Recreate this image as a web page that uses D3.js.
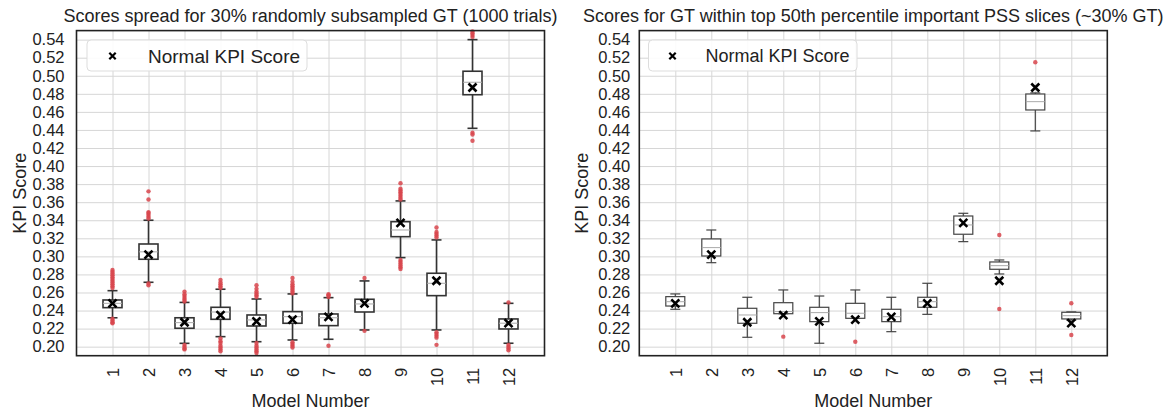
<!DOCTYPE html>
<html>
<head>
<meta charset="utf-8">
<script src="https://cdn.jsdelivr.net/npm/d3@7"></script>
<style>
  body { margin: 0; background: #fff; }
  text { font-family: "Liberation Sans", Arial, sans-serif; fill: #222; }
</style>
</head>
<body>
<div id="chart"></div>
<script>
const W = 1169, H = 412;

// model numbers on the x axis
const models = [1, 2, 3, 4, 5, 6, 7, 8, 9, 10, 11, 12];
const yTicks = [0.20, 0.22, 0.24, 0.26, 0.28, 0.30, 0.32, 0.34, 0.36, 0.38, 0.40, 0.42, 0.44, 0.46, 0.48, 0.50, 0.52, 0.54];

// normal KPI score per model (the black x)
const kpiScore = [0.248, 0.302, 0.227, 0.235, 0.228, 0.230, 0.233, 0.248, 0.337, 0.273, 0.487, 0.226];

// left panel: 1000 random 30% subsamples
const subLow = [0.232, 0.2713, 0.2037, 0.2111, 0.2055, 0.2074, 0.2082, 0.2185, 0.2986, 0.2185, 0.4418, 0.2038];
const subQ1  = [0.2432, 0.2968, 0.2204, 0.2303, 0.2229, 0.2259, 0.2233, 0.2384, 0.3218, 0.2565, 0.479, 0.2196];
const subMed = [0.248, 0.305, 0.2266, 0.2384, 0.2296, 0.2332, 0.232, 0.2473, 0.3292, 0.2702, 0.4928, 0.226];
const subQ3  = [0.2517, 0.3137, 0.232, 0.2436, 0.2351, 0.2388, 0.2362, 0.2525, 0.3384, 0.2813, 0.505, 0.2307];
const subHigh = [0.262, 0.340, 0.249, 0.2636, 0.2528, 0.2584, 0.2543, 0.2728, 0.3614, 0.3182, 0.540, 0.248];
const subOutliers = [
  [0.265, 0.267, 0.269, 0.271, 0.273, 0.275, 0.277, 0.279, 0.281, 0.283, 0.285, 0.231, 0.229, 0.227, 0.226],
  [0.342, 0.344, 0.346, 0.348, 0.349, 0.363, 0.372, 0.270, 0.268],
  [0.250, 0.252, 0.254, 0.256, 0.258, 0.261, 0.202, 0.200, 0.198, 0.197],
  [0.265, 0.267, 0.269, 0.271, 0.274, 0.209, 0.206, 0.204, 0.201, 0.199, 0.197, 0.195],
  [0.255, 0.257, 0.259, 0.261, 0.264, 0.268, 0.204, 0.201, 0.199, 0.197, 0.195, 0.193],
  [0.259, 0.261, 0.263, 0.265, 0.267, 0.269, 0.272, 0.276, 0.205, 0.203, 0.201, 0.199],
  [0.255, 0.257, 0.258, 0.201],
  [0.276, 0.2175],
  [0.363, 0.365, 0.367, 0.369, 0.371, 0.373, 0.375, 0.381, 0.296, 0.294, 0.292, 0.290, 0.288, 0.286],
  [0.321, 0.323, 0.325, 0.327, 0.332, 0.216, 0.214, 0.212, 0.210, 0.202],
  [0.543, 0.545, 0.547, 0.549, 0.437, 0.435, 0.428],
  [0.249, 0.202, 0.200, 0.198, 0.196]
];

// right panel: GT within top 50th percentile PSS slices
const pssLow = [0.2414, 0.293, 0.2104, 0.2365, 0.2038, 0.2314, 0.2166, 0.2358, 0.3163, 0.2805, 0.4389, 0.2296];
const pssQ1  = [0.245, 0.3004, 0.2259, 0.2365, 0.2277, 0.2314, 0.2277, 0.2436, 0.3245, 0.2857, 0.4621, 0.2307];
const pssMed = [0.2498, 0.3097, 0.2351, 0.239, 0.2377, 0.237, 0.2332, 0.2498, 0.3348, 0.2897, 0.4713, 0.2343];
const pssQ3  = [0.2554, 0.3193, 0.2425, 0.2487, 0.2436, 0.248, 0.2414, 0.2547, 0.3447, 0.2938, 0.4798, 0.2381];
const pssHigh = [0.2584, 0.3292, 0.2547, 0.2628, 0.2561, 0.2628, 0.2547, 0.2702, 0.3477, 0.296, 0.481, 0.2385];
const pssOutliers = [[], [], [], [0.2111], [], [0.2055], [], [], [], [0.3237, 0.2417], [0.515], [0.248, 0.213]];

const svg = d3.select("#chart").append("svg")
    .attr("width", W)
    .attr("height", H)
    .style("background", "#fff");

function buildStats(low, q1, med, q3, high, outl) {
    return models.map(function(m, i) {
        return {model: m, low: low[i], q1: q1[i], med: med[i], q3: q3[i], high: high[i], out: outl[i], kpi: kpiScore[i]};
    });
}

function drawPanel(opt) {
    let x = d3.scaleLinear().domain([0, 13]).range([opt.left, opt.right]);
    let y = d3.scaleLinear().domain([0.19, 0.55]).range([opt.bottom, opt.top]);
    let g = svg.append("g");

    // grid
    g.append("g")
        .attr("transform", `translate(${opt.left}, 0)`)
        .call(d3.axisLeft(y).tickValues(yTicks).tickSize(-(opt.right - opt.left)).tickFormat(""))
        .call(s => s.select(".domain").remove())
        .selectAll("line").attr("stroke", "#d6d6d6").attr("stroke-width", 1);
    g.append("g")
        .attr("transform", `translate(0, ${opt.bottom})`)
        .call(d3.axisBottom(x).tickValues(models).tickSize(-(opt.bottom - opt.top)).tickFormat(""))
        .call(s => s.select(".domain").remove())
        .selectAll("line").attr("stroke", "#d6d6d6").attr("stroke-width", 1);

    // tick labels
    let yAx = g.append("g")
        .attr("transform", `translate(${opt.left}, 0)`)
        .call(d3.axisLeft(y).tickValues(yTicks).tickSize(0).tickPadding(opt.yPad).tickFormat(d3.format(".2f")));
    yAx.select(".domain").remove();
    yAx.selectAll("text").style("font-size", "16.5px").attr("fill", "#222")
        .style("font-family", "'Liberation Sans', Arial, sans-serif");

    let xAx = g.append("g")
        .attr("transform", `translate(0, ${opt.bottom})`)
        .call(d3.axisBottom(x).tickValues(models).tickSize(0).tickFormat(d3.format("d")));
    xAx.select(".domain").remove();
    xAx.selectAll("text")
        .attr("y", 0).attr("dy", null)
        .attr("transform", "translate(0, 12) rotate(-90)")
        .attr("text-anchor", "end")
        .attr("dominant-baseline", "central")
        .attr("fill", "#222")
        .style("font-size", "16.5px")
        .style("font-family", "'Liberation Sans', Arial, sans-serif");

    let data = opt.data;
    let bw = 19, cw = 10;
    let boxes = g.selectAll(".bx").data(data).enter().append("g").attr("class", "bx");

    // whiskers
    boxes.append("line")
        .attr("x1", d => x(d.model)).attr("x2", d => x(d.model))
        .attr("y1", d => y(d.q3)).attr("y2", d => y(d.high))
        .attr("stroke", opt.lineColor).attr("stroke-width", opt.lw);
    boxes.append("line")
        .attr("x1", d => x(d.model)).attr("x2", d => x(d.model))
        .attr("y1", d => y(d.q1)).attr("y2", d => y(d.low))
        .attr("stroke", opt.lineColor).attr("stroke-width", opt.lw);
    boxes.append("line")
        .attr("x1", d => x(d.model) - cw / 2).attr("x2", d => x(d.model) + cw / 2)
        .attr("y1", d => y(d.high)).attr("y2", d => y(d.high))
        .attr("stroke", opt.lineColor).attr("stroke-width", opt.lw);
    boxes.append("line")
        .attr("x1", d => x(d.model) - cw / 2).attr("x2", d => x(d.model) + cw / 2)
        .attr("y1", d => y(d.low)).attr("y2", d => y(d.low))
        .attr("stroke", opt.lineColor).attr("stroke-width", opt.lw);

    boxes.append("rect")
        .attr("x", d => x(d.model) - bw / 2)
        .attr("y", d => y(d.q3))
        .attr("width", bw)
        .attr("height", d => y(d.q1) - y(d.q3))
        .attr("fill", "#fff")
        .attr("stroke", opt.lineColor)
        .attr("stroke-width", opt.lw);
    boxes.append("line")
        .attr("x1", d => x(d.model) - bw / 2).attr("x2", d => x(d.model) + bw / 2)
        .attr("y1", d => y(d.med)).attr("y2", d => y(d.med))
        .attr("stroke", "#aaa").attr("stroke-width", 1);

    // outliers
    boxes.selectAll("circle").data(d => d.out.map(v => ({model: d.model, v: v})))
        .enter().append("circle")
        .attr("cx", d => x(d.model))
        .attr("cy", d => y(d.v))
        .attr("r", 2.2)
        .attr("fill", "#d8454c")
        .attr("fill-opacity", 0.85);

    // normal KPI score marker
    let s = 4;
    boxes.append("path")
        .attr("d", d => `M${x(d.model) - s},${y(d.kpi) - s}L${x(d.model) + s},${y(d.kpi) + s}M${x(d.model) - s},${y(d.kpi) + s}L${x(d.model) + s},${y(d.kpi) - s}`)
        .attr("stroke", "#000").attr("stroke-width", 2.6);

    // frame
    g.append("rect")
        .attr("x", opt.left).attr("y", opt.top)
        .attr("width", opt.right - opt.left).attr("height", opt.bottom - opt.top)
        .attr("fill", "none").attr("stroke", "#222").attr("stroke-width", 1.6);

    // legend
    let lg = g.append("g");
    lg.append("rect")
        .attr("x", opt.legX).attr("y", 40).attr("width", opt.legW).attr("height", 31)
        .attr("rx", 4).attr("fill", "#fff").attr("fill-opacity", 0.9)
        .attr("stroke", "#ddd").attr("stroke-width", 1);
    let mx = opt.legX + opt.legMark, my = 56, ms = 3.2;
    lg.append("path")
        .attr("d", `M${mx - ms},${my - ms}L${mx + ms},${my + ms}M${mx - ms},${my + ms}L${mx + ms},${my - ms}`)
        .attr("stroke", "#000").attr("stroke-width", 2.2);
    lg.append("text")
        .attr("x", opt.legX + opt.legText).attr("y", my)
        .attr("dominant-baseline", "central")
        .style("font-size", opt.legFont + "px")
        .text("Normal KPI Score");

    // titles and labels
    let cx = (opt.left + opt.right) / 2;
    g.append("text")
        .attr("x", cx).attr("y", 22)
        .attr("text-anchor", "middle")
        .style("font-size", "18px")
        .text(opt.title);
    g.append("text")
        .attr("x", cx).attr("y", 407)
        .attr("text-anchor", "middle")
        .style("font-size", "18px")
        .text("Model Number");
    g.append("text")
        .attr("transform", `translate(${opt.left - 57}, ${(opt.top + opt.bottom) / 2}) rotate(-90)`)
        .attr("text-anchor", "middle")
        .attr("dominant-baseline", "central")
        .style("font-size", "18px")
        .text("KPI Score");
}

drawPanel({
    left: 76.5, right: 544.5, top: 30.6, bottom: 355.7,
    yPad: 12, lw: 1.6, lineColor: "#333",
    legX: 87, legW: 220, legMark: 25.5, legText: 61, legFont: 19,
    title: "Scores spread for 30% randomly subsampled GT (1000 trials)",
    data: buildStats(subLow, subQ1, subMed, subQ3, subHigh, subOutliers)
});

drawPanel({
    left: 639.3, right: 1107.3, top: 30.6, bottom: 355.7,
    yPad: 9, lw: 1.2, lineColor: "#444",
    legX: 648.5, legW: 208.5, legMark: 24, legText: 57, legFont: 18,
    title: "Scores for GT within top 50th percentile important PSS slices (~30% GT)",
    data: buildStats(pssLow, pssQ1, pssMed, pssQ3, pssHigh, pssOutliers)
});
</script>
</body>
</html>
